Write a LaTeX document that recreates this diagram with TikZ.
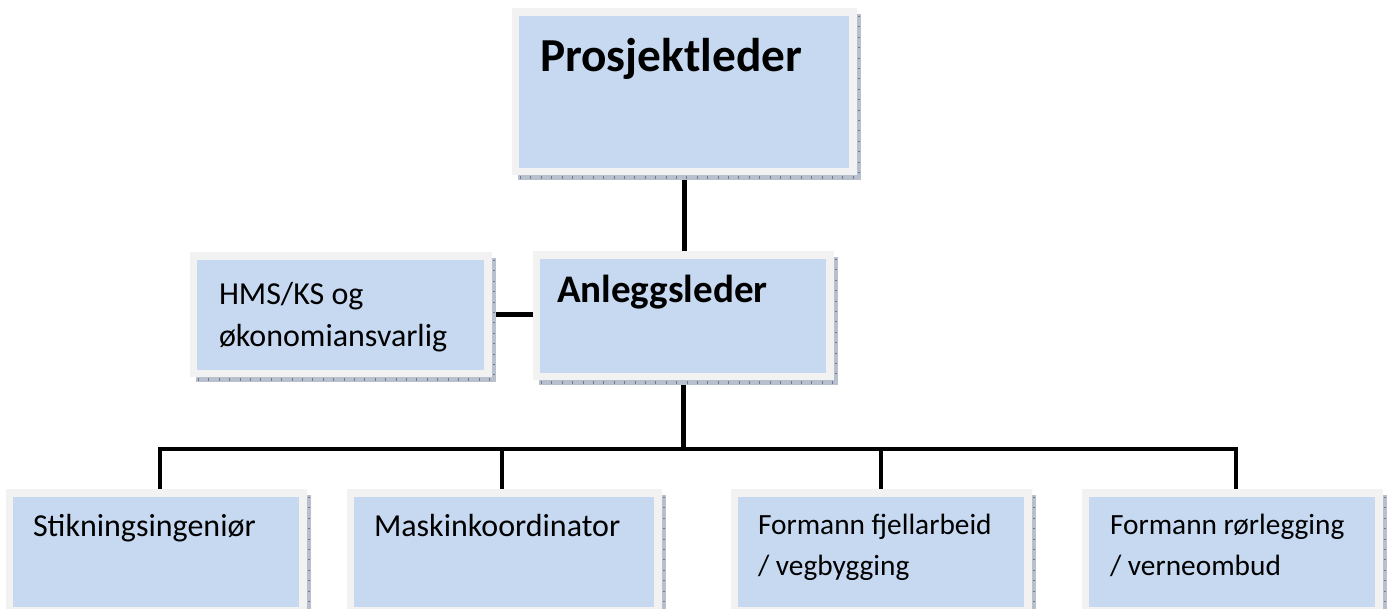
\documentclass[tikz,border=0pt]{standalone}
\usepackage{fontspec}
\setmainfont{Carlito}
\usetikzlibrary{backgrounds}
\definecolor{outerc}{HTML}{F2F2F2}
\definecolor{innerc}{HTML}{C6D9F1}
\definecolor{shadowc}{HTML}{B8C0CE}
\definecolor{tickc}{HTML}{6C7A93}
\tikzset{
  outerbox/.style={fill=outerc, draw=none, inner sep=0pt, outer sep=0pt},
  conn/.style={line width=3.2pt, black, line join=miter},
  txt/.style={inner sep=0pt, outer sep=0pt, text=black},
  big/.style={font=\bfseries\fontsize{35.5}{40}\selectfont},
  mid/.style={font=\bfseries\fontsize{29.3}{34}\selectfont},
  body/.style={font=\fontsize{24}{30}\selectfont},
  small/.style={font=\fontsize{22}{28}\selectfont},
}
% name, x1, y1, x2, y2 (pixels, y downwards)
\newcommand\orgbox[5]{%
  \fill[shadowc] (#4,#3+6) rectangle (#4+4,#5+5);
  \fill[shadowc] (#2+6,#5) rectangle (#4+4,#5+5);
  \draw[tickc, line width=2pt, dash pattern=on 0.8pt off 7pt] (#4+2,#3+8) -- (#4+2,#5+3);
  \draw[tickc, line width=2.5pt, dash pattern=on 0.8pt off 7pt] (#2+8,#5+2.5) -- (#4+2,#5+2.5);
  \node[outerbox, minimum width={(#4-#2)*0.75pt}, minimum height={(#5-#3)*0.75pt}] (#1) at ({(#2+#4)/2},{(#3+#5)/2}) {};
  \fill[innerc] ([xshift=5.25pt,yshift=-6pt]#1.north west) rectangle ([xshift=-6pt,yshift=5.25pt]#1.south east);
}
\begin{document}
\begin{tikzpicture}[x=0.75pt, y=-0.75pt]
\useasboundingbox (0,0) rectangle (1390,609);
\orgbox{P}{512}{8}{857}{175}
\orgbox{H}{190}{252}{492}{377}
\orgbox{A}{533}{251}{834}{380}
\orgbox{B1}{6}{489}{307}{614}
\orgbox{B2}{347}{489}{662}{614}
\orgbox{B3}{731}{489}{1032}{614}
\orgbox{B4}{1082}{489}{1383}{614}

\node[txt, big, anchor=base west] (tP) at (540,72) {Prosjektleder};
\node[txt, mid, anchor=base west] (tA) at (557,303) {Anleggsleder};
\node[txt, body, anchor=base west] (tH1) at (219,305) {HMS/KS og};
\node[txt, body, anchor=base west] (tH2) at (219,347) {økonomiansvarlig};
\node[txt, body, anchor=base west] (t1) at (33,537) {Stikningsingeniør};
\node[txt, body, anchor=base west] (t2) at (374,537) {Maskinkoordinator};
\node[txt, small, anchor=base west] (t3a) at (758,535) {Formann fjellarbeid};
\node[txt, small, anchor=base west] (t3b) at (758,576) {/ vegbygging};
\node[txt, small, anchor=base west] (t4a) at (1110,535) {Formann rørlegging};
\node[txt, small, anchor=base west] (t4b) at (1110,576) {/ verneombud};

\coordinate (bus) at (684,449);
\coordinate (j1) at (160,449);
\coordinate (j2) at (502,449);
\coordinate (j3) at (881,449);
\coordinate (j4) at (1236,449);

\begin{scope}[on background layer]
\draw[conn] (P.south) -- (P.south |- A.north);
\draw[conn] (A.south) -- (A.south |- bus);
\draw[conn] (H.east) -- (H.east -| A.west);
\draw[conn] (j1 |- B1.north) -- (j1) -- (j4) -- (j4 |- B4.north);
\draw[conn] (j2) -- (j2 |- B2.north);
\draw[conn] (j3) -- (j3 |- B3.north);
\end{scope}
\end{tikzpicture}
\end{document}
